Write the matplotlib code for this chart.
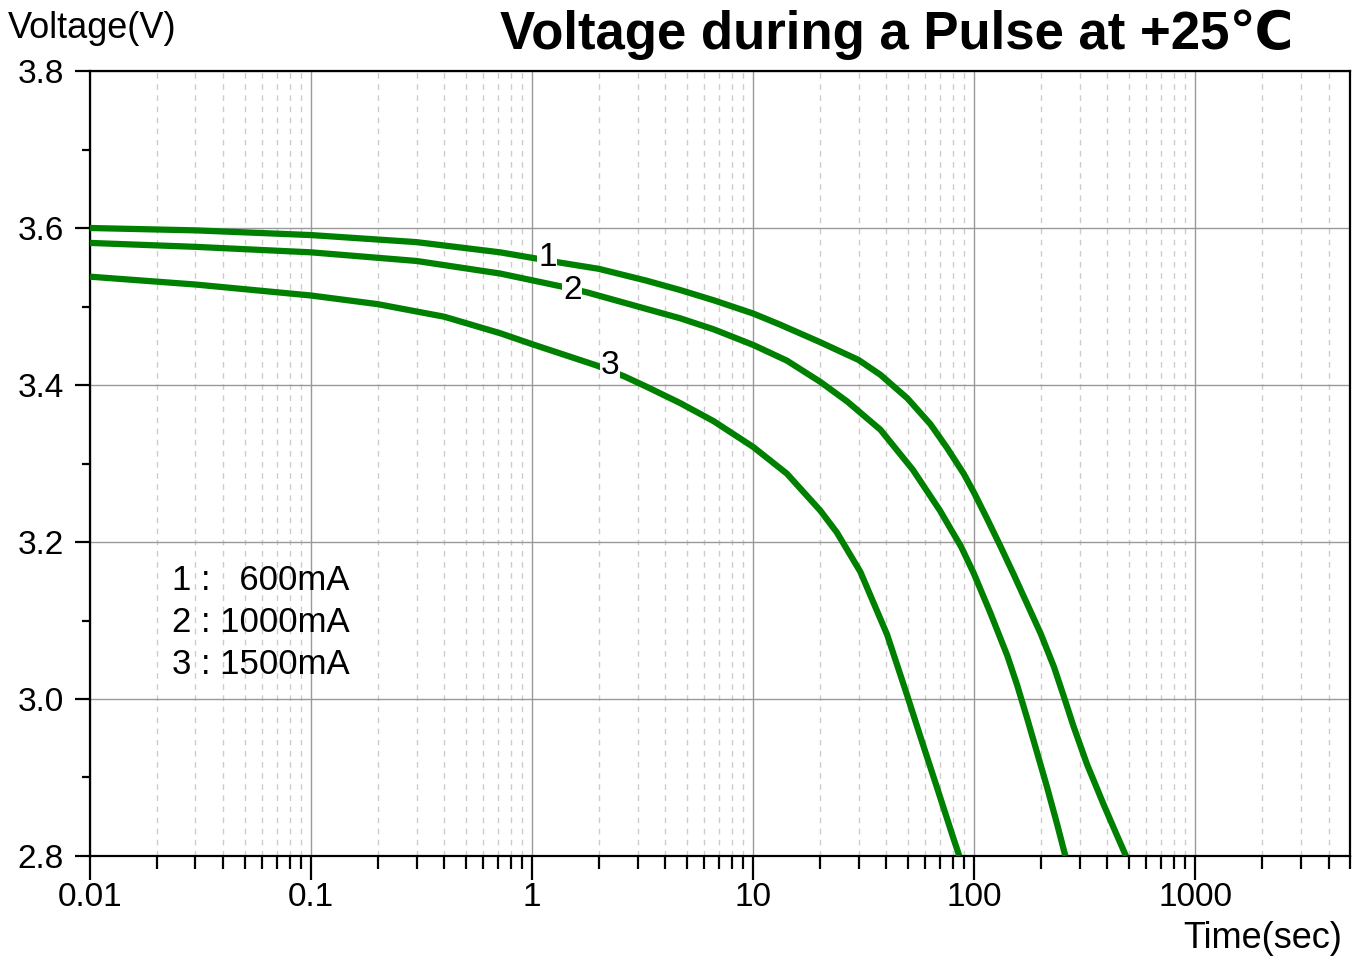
import numpy as np
import matplotlib.pyplot as plt
from matplotlib.ticker import LogLocator, MultipleLocator, FixedLocator, NullFormatter

# odczyty z wykresu: czas [s] i napiecie [V]
t1 = [0.01, 0.03, 0.1, 0.3, 0.716, 1.0, 1.33, 2.0, 3.28, 4.67, 6.61, 10.0, 13.2, 19.9, 29.9, 37.6,
      49.8, 63.3, 75.2, 89.5, 100, 114, 131, 151, 167, 199, 229, 254, 281, 323, 385, 442, 485]
v1 = [3.600, 3.597, 3.591, 3.582, 3.569, 3.562, 3.556, 3.548, 3.533, 3.521, 3.508, 3.491, 3.477, 3.455, 3.432, 3.413,
      3.383, 3.350, 3.320, 3.287, 3.262, 3.230, 3.195, 3.158, 3.131, 3.084, 3.041, 3.003, 2.965, 2.917, 2.865, 2.826, 2.800]

t2 = [0.01, 0.03, 0.1, 0.3, 0.716, 1.33, 1.77, 3.28, 4.67, 6.61, 10.0, 14.2, 20.1, 26.6, 37.6,
      52.7, 69.9, 87.1, 99.4, 118, 141, 156, 173, 192, 213, 237, 258]
v2 = [3.581, 3.576, 3.569, 3.558, 3.542, 3.526, 3.518, 3.497, 3.485, 3.471, 3.451, 3.431, 3.404, 3.379, 3.343,
      3.292, 3.240, 3.194, 3.160, 3.110, 3.055, 3.018, 2.976, 2.932, 2.888, 2.840, 2.800]

t3 = [0.01, 0.03, 0.1, 0.2, 0.4, 0.716, 1.0, 1.95, 2.61, 3.28, 4.67, 6.61, 10.0, 14.2, 20.1, 23.9,
      30.5, 40.3, 49.6, 57.0, 67.8, 80.5, 85.5]
v3 = [3.538, 3.528, 3.514, 3.503, 3.487, 3.466, 3.452, 3.425, 3.411, 3.398, 3.377, 3.354, 3.321, 3.287, 3.240, 3.212,
      3.162, 3.082, 3.005, 2.952, 2.887, 2.822, 2.800]

etykiety = ['1', '2', '3']
etykiety_t = [1.17, 1.52, 2.25]
etykiety_v = [3.563, 3.520, 3.425]
legenda = ['1 :   600mA', '2 : 1000mA', '3 : 1500mA']

plt.rcParams['font.family'] = ['Liberation Sans', 'DejaVu Sans']

W, H = 1359, 959
fig = plt.figure(figsize=(W / 100, H / 100), dpi=100)
ax = fig.add_axes([90 / W, 1 - 856 / H, 1260 / W, 785 / H])

kolor = '#008000'
for t, v in [(t1, v1), (t2, v2), (t3, v3)]:
    ax.plot(t, v, color=kolor, lw=4.5, solid_joinstyle='round', solid_capstyle='butt', zorder=3)

for txt, tx, vy in zip(etykiety, etykiety_t, etykiety_v):
    ax.text(tx, vy, txt, fontsize=24, ha='center', va='center', zorder=4,
            bbox=dict(facecolor='white', edgecolor='none', pad=0.5))

ax.set_xscale('log')
ax.set_xlim(0.01, 5000)
ax.set_ylim(2.8, 3.8)

ax.xaxis.set_major_locator(FixedLocator([0.01, 0.1, 1, 10, 100, 1000]))
ax.set_xticklabels(['0.01', '0.1', '1', '10', '100', '1000'])
ax.xaxis.set_minor_locator(LogLocator(base=10, subs=np.arange(2, 10), numticks=20))
ax.xaxis.set_minor_formatter(NullFormatter())
ax.yaxis.set_minor_locator(MultipleLocator(0.1))
ax.set_yticks([2.8, 3.0, 3.2, 3.4, 3.6, 3.8])
ax.set_yticklabels(['2.8', '3.0', '3.2', '3.4', '3.6', '3.8'])

ax.tick_params(axis='x', which='major', direction='out', length=17, width=1.6, labelsize=24, pad=2)
ax.tick_params(axis='x', which='minor', direction='out', length=9.5, width=1.6)
ax.tick_params(axis='y', which='major', direction='out', length=11, width=1.6, labelsize=24, pad=8)
ax.tick_params(axis='y', which='minor', direction='out', length=6, width=1.6)

ax.grid(which='major', axis='both', color='#999999', lw=1.0, ls='-')
ax.grid(which='minor', axis='x', color='#cccccc', lw=1.0, ls=(0, (4, 4)))

for s in ax.spines.values():
    s.set_linewidth(1.6)

for i, linia in enumerate(legenda):
    fig.text(172 / W, 1 - (581 + 42 * i) / H, linia, fontsize=25, ha='left', va='center')

fig.text(8 / W, 1 - 28 / H, 'Voltage(V)', fontsize=26, ha='left', va='center')
fig.text(1342 / W, 1 - 938 / H, 'Time(sec)', fontsize=26, ha='right', va='center')
fig.text(897 / W, 1 - 35 / H, 'Voltage during a Pulse at +25℃', fontsize=38, fontweight='bold',
         ha='center', va='center')

fig.savefig('out.png', dpi=100)
